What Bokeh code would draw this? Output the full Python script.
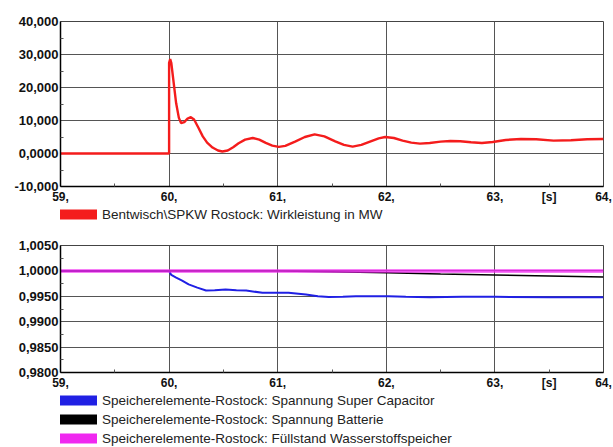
from bokeh.plotting import figure
from bokeh.models import FixedTicker, Legend, LegendItem, Range1d
from bokeh.layouts import column
from bokeh.embed import file_html
from bokeh.resources import INLINE

# ---------------- data ----------------
x_ticks = [59, 60, 61, 62, 63, 64]
x_labels = ["59,", "60,", "61,", "62,", "63,", "64,"]
x_unit_pos = 63.5
x_unit_label = "[s]"

top_yticks = [-10000, 0, 10000, 20000, 30000, 40000]
top_ylabels = ["-10,000", "0,0000", "10,000", "20,000", "30,000", "40,000"]

bot_yticks = [0.98, 0.985, 0.99, 0.995, 1.0, 1.005]
bot_ylabels = ["0,9800", "0,9850", "0,9900", "0,9950", "1,0000", "1,0050"]

red_t = [59.0, 60.0, 60.0, 60.01, 60.02, 60.04, 60.065, 60.09, 60.11, 60.14, 60.17, 60.20,
         60.23, 60.27, 60.31, 60.35, 60.40, 60.45, 60.49, 60.54, 60.59, 60.64, 60.70, 60.77,
         60.83, 60.89, 60.95, 61.01, 61.07, 61.16, 61.25, 61.34, 61.43, 61.53, 61.61, 61.69,
         61.77, 61.85, 61.93, 61.99, 62.07, 62.15, 62.23, 62.31, 62.40, 62.50, 62.59, 62.68,
         62.78, 62.88, 62.98, 63.10, 63.24, 63.38, 63.54, 63.70, 63.85, 64.0]
red_mw = [0, 0, 27500, 28600, 27500, 22000, 15200, 10800, 9200, 9500, 10600, 11000,
          10300, 7800, 5200, 3300, 1800, 900, 600, 900, 1900, 3100, 4200, 4700,
          4200, 3200, 2400, 2000, 2300, 3600, 5000, 5800, 5200, 3700, 2600, 2100,
          2600, 3600, 4600, 5000, 4700, 3900, 3300, 3000, 3200, 3600, 3800, 3700,
          3400, 3200, 3500, 4100, 4400, 4300, 3900, 4000, 4300, 4400]

cap_t = [59.0, 60.0, 60.02, 60.065, 60.12, 60.18, 60.26, 60.34, 60.42, 60.52, 60.62, 60.71,
         60.86, 61.0, 61.10, 61.26, 61.37, 61.47, 61.6, 61.72, 61.9, 62.02, 62.18, 62.4,
         62.7, 63.0, 63.5, 64.0]
cap_v = [1.0, 1.0, 0.9992, 0.99867, 0.9981, 0.99734, 0.9967, 0.99614, 0.9962, 0.99634, 0.9962, 0.99614,
         0.99568, 0.99568, 0.99568, 0.99534, 0.9950, 0.99488, 0.9949, 0.9950, 0.9950, 0.9950, 0.9949, 0.9948,
         0.9949, 0.9949, 0.9948, 0.9948]

bat_t = [59.0, 61.0, 61.5, 62.0, 62.5, 63.0, 63.5, 64.0]
bat_v = [1.0, 1.0, 0.99985, 0.99965, 0.9994, 0.9992, 0.9990, 0.9988]

h2_t = [59.0, 64.0]
h2_v = [1.0, 1.0]

label_red = "Bentwisch\\SPKW Rostock: Wirkleistung in MW"
label_cap = "Speicherelemente-Rostock: Spannung Super Capacitor"
label_bat = "Speicherelemente-Rostock: Spannung Batterie"
label_h2 = "Speicherelemente-Rostock: Füllstand Wasserstoffspeicher"

RED = "#f41c1c"
BLUE = "#2020e4"
BLACK = "#000000"
MAGENTA = "#f028f0"
FONT = "Liberation Sans"


def style(p, yticks, ylabels):
    p.background_fill_color = "white"
    p.border_fill_color = "white"
    p.outline_line_color = "#444444"
    p.outline_line_width = 1

    xt = list(x_ticks) + [x_unit_pos]
    minor_x = [t + 0.5 for t in x_ticks[:-1]]
    p.xaxis.ticker = FixedTicker(ticks=xt, minor_ticks=minor_x)
    ov = {t: l for t, l in zip(x_ticks, x_labels)}
    ov[x_unit_pos] = x_unit_label
    p.xaxis.major_label_overrides = ov

    step = yticks[1] - yticks[0]
    minor_y = [t + step / 2 for t in yticks[:-1]]
    p.yaxis.ticker = FixedTicker(ticks=yticks, minor_ticks=minor_y)
    p.yaxis.major_label_overrides = {t: l for t, l in zip(yticks, ylabels)}

    for ax in (p.xaxis[0], p.yaxis[0]):
        ax.axis_line_color = "black"
        ax.axis_line_width = 1.5
        ax.major_tick_in = 0
        ax.major_tick_out = 0
        ax.minor_tick_in = 3
        ax.minor_tick_out = 0
        ax.minor_tick_line_color = "#555555"
        ax.major_label_text_font = FONT
        ax.major_label_text_font_style = "bold"
        ax.major_label_text_color = "#111111"
    p.xaxis.major_label_text_font_size = "12px"
    p.yaxis.major_label_text_font_size = "13px"
    p.xaxis.major_label_standoff = 3
    p.yaxis.major_label_standoff = 2

    p.xgrid.ticker = FixedTicker(ticks=x_ticks[1:-1])
    p.ygrid.ticker = FixedTicker(ticks=yticks[1:-1])
    for g in (p.xgrid[0], p.ygrid[0]):
        g.grid_line_color = "#555555"
        g.grid_line_width = 1


def legend_fig(h, entries):
    f = figure(width=613, height=h, x_range=Range1d(0, 1), y_range=Range1d(0, 1),
               output_backend="svg", toolbar_location=None,
               x_axis_location=None, y_axis_location=None,
               min_border=0, min_border_left=60, min_border_right=0)
    f.grid.visible = False
    f.outline_line_color = None
    f.background_fill_color = "white"
    f.border_fill_color = "white"
    items = []
    for lab, col in entries:
        # off-range swatch renderer: only its legend glyph is seen
        r = f.line(x=[-2, -1], y=[-2, -2], line_color=col, line_width=10, line_cap="round")
        items.append(LegendItem(label=lab, renderers=[r]))
    n = len(entries)
    leg_h = 16 * n + 3 * (n - 1)
    leg = Legend(items=items, location=(-5, h - leg_h), orientation="vertical",
                 glyph_width=42, glyph_height=16, label_height=16, label_standoff=5,
                 spacing=3, padding=0, margin=0,
                 border_line_alpha=0, background_fill_alpha=0,
                 label_text_font=FONT, label_text_font_size="13.5px",
                 label_text_color="#222222")
    f.add_layout(leg, "center")
    return f


# ---------------- top figure ----------------
p1 = figure(width=613, height=206, x_range=Range1d(59, 64), y_range=Range1d(-10000, 40000),
            output_backend="svg", toolbar_location=None,
            min_border_left=60, min_border_right=10, min_border_top=21, min_border_bottom=18)
style(p1, top_yticks, top_ylabels)
p1.line(red_t, red_mw, line_color=RED, line_width=2.4)

l1 = legend_fig(27, [(label_red, RED)])

# ---------------- bottom figure ----------------
p2 = figure(width=613, height=159, x_range=Range1d(59, 64), y_range=Range1d(0.98, 1.005),
            output_backend="svg", toolbar_location=None,
            min_border_left=60, min_border_right=10, min_border_top=12, min_border_bottom=18)
style(p2, bot_yticks, bot_ylabels)
p2.line(cap_t, cap_v, line_color=BLUE, line_width=2)
p2.line(bat_t, bat_v, line_color=BLACK, line_width=1.5)
p2.line(h2_t, h2_v, line_color=MAGENTA, line_width=3.5, line_alpha=0.8)

l2 = legend_fig(55, [(label_cap, BLUE), (label_bat, BLACK), (label_h2, MAGENTA)])

layout = column(p1, l1, p2, l2, spacing=0)
open("out.html", "w").write(file_html(layout, INLINE))
